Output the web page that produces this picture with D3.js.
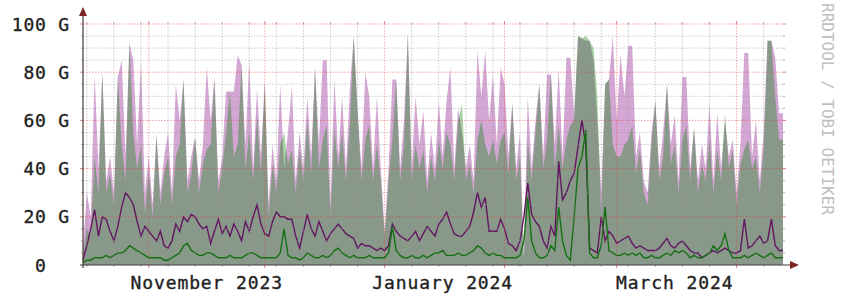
<!DOCTYPE html>
<html lang="en">
<head>
<meta charset="utf-8">
<title>traffic</title>
<script src="https://cdn.jsdelivr.net/npm/d3@7"></script>
<style>
  body { margin: 0; background: #fff; }
  text { font-family: "DejaVu Sans Mono", monospace; }
</style>
</head>
<body>
<script>
// one value per day, starting at startDate (values in G)
var startDate = new Date(2023, 9, 15);
var endDate = new Date(2024, 3, 13);

var maxIn = [
  8, 30, 20, 79, 40, 80, 35, 45, 30, 78,
  85, 45, 92, 85, 50, 85, 30, 45, 25, 54,
  30, 45, 55, 30, 75, 60, 77, 35, 45, 53,
  35, 50, 82, 60, 78, 35, 45, 72, 72, 72,
  87, 83, 50, 85, 40, 73, 45, 76, 25, 50,
  35, 75, 40, 55, 74, 35, 55, 40, 70, 45,
  82, 50, 85, 85, 25, 77, 45, 70, 40, 73,
  95, 64, 40, 80, 70, 40, 70, 40, 14, 40,
  77, 77, 40, 60, 96, 40, 70, 50, 64, 35,
  55, 40, 68, 45, 68, 82, 40, 65, 55, 40,
  50, 35, 89, 70, 89, 60, 79, 50, 82, 75,
  45, 67, 40, 55, 3, 70, 40, 60, 75, 45,
  79, 79, 50, 81, 45, 86, 86, 62, 95, 94,
  93, 93, 85, 60, 30, 75, 77, 95, 60, 87,
  70, 91, 91, 45, 55, 35, 30, 55, 68, 40,
  55, 75, 50, 62, 35, 78, 78, 40, 57, 35,
  50, 40, 67, 35, 63, 40, 60, 45, 52, 30,
  50, 88, 88, 45, 60, 35, 55, 93, 93, 86,
  63
];
var maxOut = [
  4, 15, 12, 45, 30, 80, 30, 38, 25, 78,
  50, 35, 92, 55, 40, 50, 22, 38, 20, 54,
  25, 38, 45, 25, 45, 50, 77, 30, 38, 53,
  30, 42, 48, 50, 76, 30, 40, 55, 72, 45,
  50, 83, 40, 55, 35, 62, 38, 76, 20, 42,
  30, 50, 55, 42, 48, 30, 48, 35, 60, 38,
  82, 40, 52, 58, 20, 57, 40, 55, 35, 58,
  95, 64, 35, 52, 58, 35, 50, 35, 12, 35,
  52, 77, 35, 50, 96, 35, 50, 40, 48, 30,
  45, 35, 52, 40, 55, 50, 35, 60, 67, 35,
  42, 30, 52, 60, 50, 45, 52, 42, 52, 55,
  38, 67, 35, 45, 2, 52, 35, 55, 75, 40,
  52, 79, 40, 58, 40, 52, 58, 60, 95, 94,
  95, 93, 90, 70, 20, 75, 77, 50, 45, 45,
  50, 52, 58, 38, 48, 30, 25, 50, 68, 35,
  45, 75, 42, 50, 30, 52, 58, 35, 57, 30,
  42, 35, 52, 30, 48, 35, 63, 40, 48, 25,
  42, 48, 52, 40, 45, 30, 48, 93, 93, 70,
  52
];
var avgIn = [
  2, 8, 15, 23, 12, 20, 19, 14, 10, 16,
  24, 30, 28, 25, 18, 12, 16, 14, 12, 10,
  14, 8, 7, 10, 17, 14, 20, 18, 21, 20,
  17, 15, 16, 9, 14, 19, 13, 16, 12, 17,
  14, 10, 18, 14, 20, 25, 17, 13, 12, 18,
  22, 20, 20, 19, 19, 12, 7, 14, 21, 15,
  12, 18, 14, 10, 13, 15, 17, 15, 13, 12,
  11, 7, 9, 8, 8, 7, 6, 7, 6, 8,
  17, 14, 12, 11, 10, 12, 14, 10, 13, 16,
  14, 12, 17, 19, 22, 17, 13, 12, 12, 14,
  16, 22, 30, 24, 28, 14, 14, 14, 19, 15,
  9, 8, 6, 10, 20, 34, 21, 18, 16, 10,
  7, 16, 12, 43, 27, 30, 35, 38, 49, 60,
  50, 7, 6, 5, 20, 10, 14, 12, 9, 10,
  11, 12, 9, 7, 8, 7, 6, 6, 6, 7,
  9, 11, 8, 7, 9, 10, 8, 6, 5, 5,
  3, 4, 5, 6, 5, 6, 7, 6, 5, 5,
  6, 19, 7, 8, 10, 12, 9, 10, 19, 8,
  6
];
var avgOut = [
  1, 2, 2, 3, 3, 3, 4, 3, 4, 5,
  5, 6, 8, 7, 6, 5, 4, 3, 3, 3,
  3, 2, 2, 3, 4, 5, 8, 9, 6, 5,
  4, 4, 5, 5, 4, 3, 3, 3, 4, 3,
  3, 3, 4, 5, 5, 4, 3, 3, 3, 3,
  3, 5, 15, 4, 3, 3, 2, 3, 5, 4,
  3, 3, 4, 3, 4, 6, 7, 5, 4, 3,
  4, 3, 3, 3, 4, 3, 3, 3, 3, 5,
  16, 6, 4, 3, 3, 4, 3, 3, 4, 3,
  4, 5, 5, 6, 4, 4, 4, 5, 4, 4,
  5, 6, 8, 7, 5, 4, 5, 4, 4, 3,
  3, 3, 3, 4, 10, 28, 10, 5, 3, 3,
  4, 8, 6, 24, 10, 4, 2, 20, 40, 45,
  56, 5, 3, 3, 8, 24, 6, 5, 4, 4,
  5, 4, 5, 4, 5, 3, 3, 4, 3, 3,
  4, 5, 4, 6, 5, 6, 5, 3, 4, 3,
  3, 4, 5, 8, 6, 8, 13, 6, 3, 3,
  3, 4, 3, 4, 5, 4, 3, 4, 5, 3,
  3
];

var yTicks = [0, 20, 40, 60, 80, 100];
var yTickLabels = ["0  ", "20 G", "40 G", "60 G", "80 G", "100 G"];
var monthLabels = ["November 2023", "January 2024", "March 2024"];
var monthLabelDates = [new Date(2023, 10, 16), new Date(2024, 0, 16), new Date(2024, 2, 16)];
var watermark = "RRDTOOL / TOBI OETIKER";

var w = 841;
var h = 298;
var plotLeft = 83, plotRight = 783, plotTop = 24, plotBottom = 265;

var svg = d3.select("body").append("svg")
    .attr("width", w)
    .attr("height", h);

var x = d3.scaleTime().domain([startDate, endDate]).range([plotLeft, plotRight]);
var y = d3.scaleLinear().domain([0, 100]).range([plotBottom, plotTop]);

function toPoints(values) {
  var pts = values.map(function(v, i) {
    return { date: d3.timeDay.offset(startDate, i), v: v };
  });
  pts.push({ date: endDate, v: values[values.length - 1] });
  return pts;
}

var area = d3.area()
    .x(function(d) { return x(d.date); })
    .y0(y(0))
    .y1(function(d) { return y(d.v); });

var line = d3.line()
    .x(function(d) { return x(d.date); })
    .y(function(d) { return y(d.v); });

// areas: purple first, green on top, both see-through
svg.append("path").attr("d", area(toPoints(maxIn)))
    .attr("fill", "#800080").attr("fill-opacity", 0.35);
svg.append("path").attr("d", area(toPoints(maxOut)))
    .attr("fill", "#008000").attr("fill-opacity", 0.35);

svg.append("path").attr("d", line(toPoints(avgIn)))
    .attr("fill", "none").attr("stroke", "#621662").attr("stroke-width", 1.4);
svg.append("path").attr("d", line(toPoints(avgOut)))
    .attr("fill", "none").attr("stroke", "#137013").attr("stroke-width", 1.4);

// grid on top, like rrdtool
var grid = svg.append("g");
var minorY = d3.range(0, 101, 5).filter(function(v) { return v % 20 != 0; });
minorY.forEach(function(v) {
  grid.append("line").attr("x1", plotLeft).attr("x2", plotRight).attr("y1", y(v)).attr("y2", y(v))
      .attr("stroke", "rgba(150,150,150,0.5)").attr("stroke-dasharray", "1.5,1.5");
  grid.append("line").attr("x1", plotLeft - 2).attr("x2", plotLeft).attr("y1", y(v)).attr("y2", y(v))
      .attr("stroke", "rgba(120,120,120,0.6)");
  grid.append("line").attr("x1", plotRight).attr("x2", plotRight + 2).attr("y1", y(v)).attr("y2", y(v))
      .attr("stroke", "rgba(120,120,120,0.6)");
});

var months = d3.timeMonth.range(startDate, endDate);
var weeks = d3.timeMonday.range(startDate, endDate).filter(function(d) {
  return !months.some(function(m) { return Math.abs(x(m) - x(d)) < 2; });
});
weeks.forEach(function(d) {
  grid.append("line").attr("x1", x(d)).attr("x2", x(d)).attr("y1", plotTop).attr("y2", plotBottom)
      .attr("stroke", "rgba(150,150,150,0.5)").attr("stroke-dasharray", "1.5,1.5");
  grid.append("line").attr("x1", x(d)).attr("x2", x(d)).attr("y1", plotTop - 2).attr("y2", plotTop)
      .attr("stroke", "rgba(120,120,120,0.6)");
  grid.append("line").attr("x1", x(d)).attr("x2", x(d)).attr("y1", plotBottom).attr("y2", plotBottom + 2)
      .attr("stroke", "rgba(120,120,120,0.6)");
});

yTicks.forEach(function(v) {
  if (v == 0) return;
  grid.append("line").attr("x1", plotLeft).attr("x2", plotRight).attr("y1", y(v)).attr("y2", y(v))
      .attr("stroke", "rgba(230,60,60,0.5)").attr("stroke-dasharray", "1.5,1.5");
  grid.append("line").attr("x1", plotLeft - 3).attr("x2", plotLeft).attr("y1", y(v)).attr("y2", y(v))
      .attr("stroke", "rgba(200,80,80,0.7)");
  grid.append("line").attr("x1", plotRight).attr("x2", plotRight + 3).attr("y1", y(v)).attr("y2", y(v))
      .attr("stroke", "rgba(200,80,80,0.7)");
});
months.forEach(function(d) {
  grid.append("line").attr("x1", x(d)).attr("x2", x(d)).attr("y1", plotTop).attr("y2", plotBottom)
      .attr("stroke", "rgba(230,60,60,0.45)").attr("stroke-dasharray", "1.5,1.5");
  grid.append("line").attr("x1", x(d)).attr("x2", x(d)).attr("y1", plotTop - 3).attr("y2", plotTop)
      .attr("stroke", "rgba(200,80,80,0.7)");
  grid.append("line").attr("x1", x(d)).attr("x2", x(d)).attr("y1", plotBottom).attr("y2", plotBottom + 3)
      .attr("stroke", "rgba(200,80,80,0.7)");
});

// axes with arrows
svg.append("line").attr("x1", plotLeft).attr("x2", plotLeft).attr("y1", plotBottom + 3).attr("y2", 14)
    .attr("stroke", "#4a3a3a").attr("stroke-width", 1.2);
svg.append("line").attr("x1", plotLeft - 3).attr("x2", 791).attr("y1", plotBottom).attr("y2", plotBottom)
    .attr("stroke", "#4a3a3a").attr("stroke-width", 1.2);
svg.append("path").attr("d", "M" + (plotLeft - 4) + ",16 L" + plotLeft + ",7 L" + (plotLeft + 4) + ",16 Z")
    .attr("fill", "#7d2424");
svg.append("path").attr("d", "M790," + (plotBottom - 4) + " L799," + plotBottom + " L790," + (plotBottom + 4) + " Z")
    .attr("fill", "#7d2424");

// y labels
yTicks.forEach(function(v, i) {
  svg.append("text")
      .attr("x", 70).attr("y", y(v) + 6.5)
      .attr("text-anchor", "end")
      .attr("xml:space", "preserve")
      .style("white-space", "pre")
      .attr("font-size", 18)
      .attr("letter-spacing", 0.8)
      .attr("fill", "#222")
      .attr("stroke", "#222").attr("stroke-width", 0.35)
      .text(yTickLabels[i]);
});

// month labels
monthLabels.forEach(function(t, i) {
  svg.append("text")
      .attr("x", x(monthLabelDates[i])).attr("y", 289)
      .attr("text-anchor", "middle")
      .attr("font-size", 18)
      .attr("letter-spacing", 0.9)
      .attr("fill", "#222")
      .attr("stroke", "#222").attr("stroke-width", 0.35)
      .text(t);
});

svg.append("text")
    .attr("transform", "translate(822,3) rotate(90)")
    .attr("font-size", 16)
    .attr("fill", "#c0c0c0")
    .text(watermark);
</script>
</body>
</html>
